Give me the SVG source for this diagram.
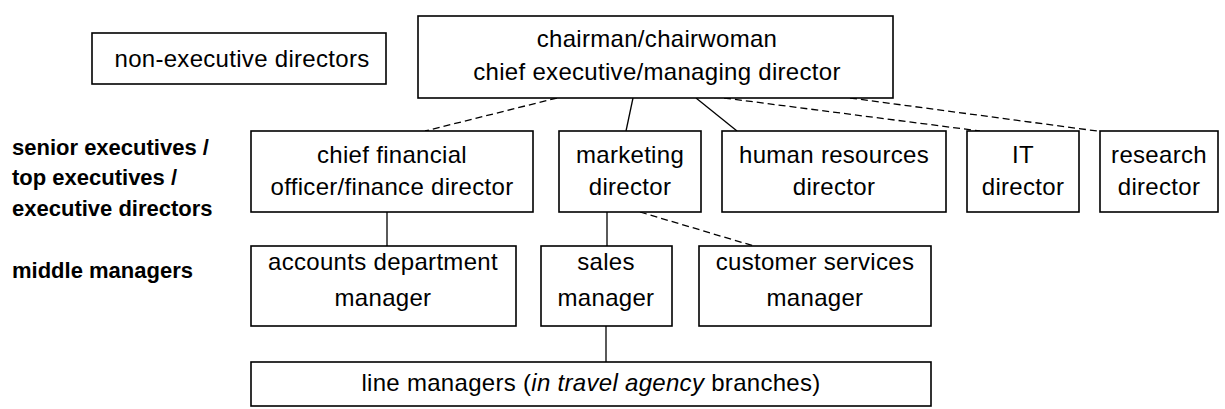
<svg xmlns="http://www.w3.org/2000/svg" width="1225" height="409" viewBox="0 0 1225 409">
<style>
.box{fill:#fff;stroke:#000;stroke-width:1.6}
.t{font-family:"Liberation Sans",Arial,sans-serif;font-size:24px;letter-spacing:0.3px;fill:#000;text-anchor:middle}
.lbl{font-family:"Liberation Sans",Arial,sans-serif;font-size:22px;font-weight:bold;fill:#000}
.c{stroke:#000;stroke-width:1.3;fill:none}
.d{stroke-dasharray:7,4}
</style>
<rect width="1225" height="409" fill="#fff"/>
<g id="connectors">
<line class="c d" x1="557" y1="98" x2="425" y2="131"/>
<line class="c" x1="633" y1="98" x2="626" y2="131"/>
<line class="c" x1="696" y1="98" x2="737" y2="131"/>
<line class="c d" x1="724" y1="98" x2="980" y2="131"/>
<line class="c d" x1="850" y1="98" x2="1097" y2="131"/>
<line class="c" x1="387" y1="212" x2="387" y2="246"/>
<line class="c" x1="607" y1="212" x2="607" y2="246"/>
<line class="c d" x1="640" y1="212" x2="754" y2="246"/>
<line class="c" x1="606" y1="326" x2="606" y2="362"/>
</g>
<g id="labels">
<text class="lbl" x="12" y="155">senior executives /</text>
<text class="lbl" x="12" y="185">top executives /</text>
<text class="lbl" x="12" y="216">executive directors</text>
<text class="lbl" x="12" y="278">middle managers</text>
</g>
<g id="non-exec">
<rect class="box" x="92" y="33" width="294" height="51"/>
<text class="t" x="242" y="67">non-executive directors</text>
</g>
<g id="chairman">
<rect class="box" x="418" y="16" width="475" height="82"/>
<text class="t" x="657" y="47">chairman/chairwoman</text>
<text class="t" x="657" y="80">chief executive/managing director</text>
</g>
<g id="cfo">
<rect class="box" x="251" y="131" width="282" height="81"/>
<text class="t" x="392" y="163">chief financial</text>
<text class="t" x="392" y="195">officer/finance director</text>
</g>
<g id="marketing">
<rect class="box" x="559" y="131" width="142" height="81"/>
<text class="t" x="630" y="163">marketing</text>
<text class="t" x="630" y="195">director</text>
</g>
<g id="hr">
<rect class="box" x="722" y="131" width="224" height="81"/>
<text class="t" x="834" y="163">human resources</text>
<text class="t" x="834" y="195">director</text>
</g>
<g id="it">
<rect class="box" x="967" y="131" width="112" height="81"/>
<text class="t" x="1023" y="163">IT</text>
<text class="t" x="1023" y="195">director</text>
</g>
<g id="research">
<rect class="box" x="1100" y="131" width="118" height="81"/>
<text class="t" x="1159" y="163">research</text>
<text class="t" x="1159" y="195">director</text>
</g>
<g id="accounts">
<rect class="box" x="251" y="246" width="265" height="80"/>
<text class="t" x="383" y="270">accounts department</text>
<text class="t" x="383" y="306">manager</text>
</g>
<g id="sales">
<rect class="box" x="541" y="246" width="131" height="80"/>
<text class="t" x="606" y="270">sales</text>
<text class="t" x="606" y="306">manager</text>
</g>
<g id="customer">
<rect class="box" x="699" y="246" width="232" height="80"/>
<text class="t" x="815" y="270">customer services</text>
<text class="t" x="815" y="306">manager</text>
</g>
<g id="line-managers">
<rect class="box" x="251" y="362" width="680" height="44"/>
<text class="t" x="591" y="391">line managers (<tspan font-style="italic">in travel agency</tspan> branches)</text>
</g>
</svg>
